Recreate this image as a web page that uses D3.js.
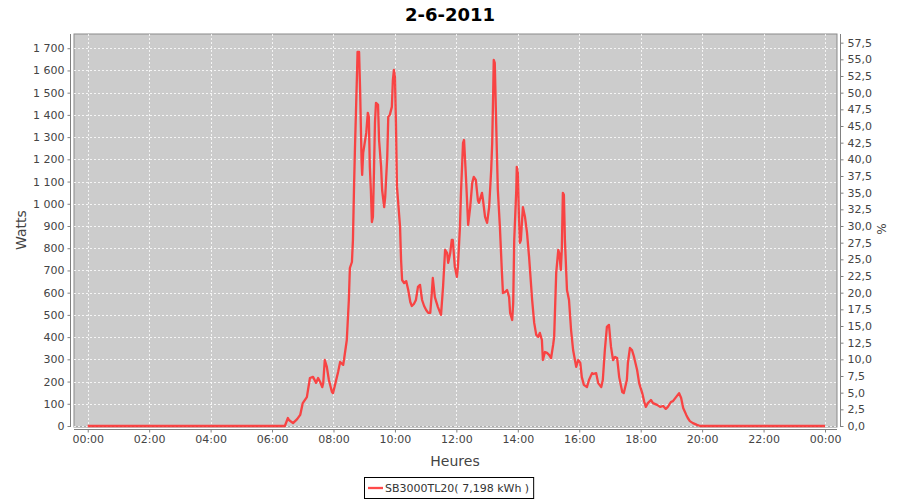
<!DOCTYPE html>
<html><head><meta charset="utf-8">
<script src="https://cdn.jsdelivr.net/npm/d3@7"></script>
<style>body{margin:0;background:#fff}svg{display:block;font-family:"DejaVu Sans",sans-serif}</style>
</head><body><svg id="c" width="900" height="500"></svg>
<script>
const title = "2-6-2011";
const seriesName = "SB3000TL20( 7,198 kWh )";
const xLabel = "Heures", yLabel = "Watts", y2Label = "%";
const xTicks = ["00:00","02:00","04:00","06:00","08:00","10:00","12:00","14:00","16:00","18:00","20:00","22:00","24:00"];
const times = ["00:00","06:25","06:31","06:33","06:41","06:49","06:55","07:00","07:08","07:14","07:20","07:26","07:30","07:34","07:38","07:40","07:43","07:47","07:51","07:57","07:59","08:03","08:09","08:13","08:19","08:21","08:26","08:30","08:32","08:36","08:38","08:40","08:42","08:46","08:47","08:50","08:52","08:54","08:55","08:56","08:58","09:04","09:07","09:09","09:11","09:13","09:15","09:17","09:19","09:21","09:23","09:27","09:29","09:33","09:35","09:39","09:41","09:45","09:47","09:50","09:54","09:56","09:58","10:00","10:02","10:04","10:06","10:10","10:12","10:14","10:18","10:22","10:26","10:30","10:33","10:37","10:41","10:45","10:49","10:53","10:57","11:01","11:05","11:09","11:12","11:14","11:18","11:24","11:30","11:34","11:38","11:42","11:44","11:48","11:51","11:53","11:57","12:01","12:03","12:07","12:09","12:13","12:15","12:19","12:23","12:27","12:31","12:34","12:38","12:42","12:44","12:50","12:52","12:56","13:00","13:04","13:08","13:10","13:12","13:13","13:15","13:17","13:19","13:21","13:25","13:29","13:31","13:35","13:39","13:43","13:45","13:49","13:51","13:53","13:57","13:58","14:00","14:02","14:04","14:06","14:08","14:10","14:14","14:18","14:22","14:28","14:32","14:36","14:40","14:43","14:47","14:49","14:53","14:57","15:01","15:05","15:09","15:11","15:15","15:19","15:21","15:24","15:26","15:28","15:30","15:32","15:36","15:40","15:44","15:48","15:54","15:58","16:02","16:05","16:09","16:15","16:19","16:25","16:27","16:33","16:37","16:43","16:46","16:50","16:54","16:58","17:02","17:06","17:10","17:14","17:18","17:24","17:27","17:33","17:35","17:39","17:43","17:47","17:53","17:57","18:03","18:07","18:10","18:14","18:20","18:24","18:32","18:38","18:44","18:49","18:53","18:59","19:03","19:09","19:15","19:19","19:23","19:29","19:32","19:36","19:42","19:50","19:56","24:00"];
const watts = [0,0,36,27,13,31,50,103,130,216,221,194,216,198,175,194,297,266,207,153,148,185,243,288,275,306,387,567,711,738,837,1062,1256,1589,1683,1683,1512,1287,1184,1130,1229,1319,1409,1391,1166,1062,918,940,1139,1364,1454,1445,1287,1166,1062,985,1031,1211,1391,1400,1436,1557,1602,1571,1364,1076,1017,896,747,657,643,652,612,558,540,549,567,626,635,567,540,522,509,509,598,666,580,535,500,626,792,778,734,778,837,837,716,671,716,896,1049,1274,1287,1107,905,985,1094,1121,1107,1017,1004,1049,1017,941,914,985,1152,1274,1512,1647,1634,1436,1242,1062,896,689,598,603,612,580,509,477,553,837,1062,1166,1139,959,824,837,914,985,941,869,761,567,464,410,401,419,387,297,333,329,320,306,365,401,689,792,778,702,800,1049,1040,837,612,567,432,342,266,297,284,220,185,175,207,238,234,238,193,175,207,342,446,455,356,297,311,306,220,153,148,207,284,351,342,311,252,193,148,108,86,103,117,103,95,86,90,77,86,108,112,130,148,126,81,50,36,22,13,5,0,0];

const toMin = s => { const [h,m] = s.split(":").map(Number); return h*60+m; };
const data = times.map((t,i)=>({x:toMin(t), y:watts[i]}));

const svg = d3.select("#c");
const P = {l:74, r:837, t:34, b:427};
const x = d3.scaleLinear().domain([-26.8,1463.4]).range([P.l,P.r]);
const y = d3.scaleLinear().domain([-4.5,1764]).range([P.b,P.t]);
const y2 = d3.scaleLinear().domain([-4.5/30,1764/30]).range([P.b,P.t]);

svg.append("rect").attr("x",P.l).attr("y",P.t).attr("width",P.r-P.l).attr("height",P.b-P.t)
  .attr("fill","#cccccc").attr("stroke","#8a8a8a").attr("stroke-width",1);

const yt = d3.range(0,1701,100);
const xt = xTicks.map(toMin);
const g = svg.append("g");
g.selectAll("line.h").data(yt).join("line").attr("x1",P.l).attr("x2",P.r)
  .attr("y1",d=>Math.round(y(d))+0.5).attr("y2",d=>Math.round(y(d))+0.5)
  .attr("stroke","#ffffff").attr("stroke-width",0.8).attr("stroke-dasharray","2,2");
g.selectAll("line.v").data(xt).join("line").attr("y1",P.t).attr("y2",P.b)
  .attr("x1",d=>Math.round(x(d))+0.5).attr("x2",d=>Math.round(x(d))+0.5)
  .attr("stroke","#ffffff").attr("stroke-width",0.8).attr("stroke-dasharray","2,2");

const fmtW = d => d3.format(",")(d).replace(/,/g," ");
const tickCol = "#444444";
const axL = svg.append("g").attr("transform",`translate(${P.l-3.5},0)`)
  .call(d3.axisLeft(y).tickValues(yt).tickFormat(fmtW).tickSizeOuter(0).tickSize(3).tickPadding(3));
const axR = svg.append("g").attr("transform",`translate(${P.r+3.5},0)`)
  .call(d3.axisRight(y2).tickValues(d3.range(0,57.6,2.5)).tickFormat(d=>d3.format(".1f")(d).replace(".",",")).tickSizeOuter(0).tickSize(3).tickPadding(4));
const axB = svg.append("g").attr("transform",`translate(0,${P.b+2.5})`)
  .call(d3.axisBottom(x).tickValues(xt).tickFormat((d,i)=>i===xTicks.length-1?"00:00":xTicks[i]).tickSizeOuter(0).tickSize(3).tickPadding(3));
[axL,axR,axB].forEach(a=>{
  a.select(".domain").attr("stroke","#808080");
  a.selectAll(".tick line").attr("stroke","#808080");
  a.selectAll(".tick text").attr("fill",tickCol).attr("font-size","11px").attr("font-family","DejaVu Sans");
});
axL.select(".domain").attr("d",`M0,${P.t}V${P.b}`);
axR.select(".domain").attr("d",`M0,${P.t}V${P.b}`);
axB.select(".domain").attr("d",`M${P.l},0H${P.r}`);

const line = d3.line().x(d=>x(d.x)).y(d=>y(d.y));
svg.append("path").datum(data).attr("d",line).attr("fill","none")
  .attr("stroke","#ff2a2a").attr("stroke-opacity",0.85).attr("stroke-width",2.3).attr("stroke-linejoin","round");

svg.append("text").attr("x",450).attr("y",21).attr("text-anchor","middle")
  .attr("font-size","18px").attr("font-weight","bold").attr("fill","#000").text(title);
svg.append("text").attr("x",455).attr("y",466).attr("text-anchor","middle")
  .attr("font-size","14px").attr("fill","#444").text(xLabel);
svg.append("text").attr("transform","translate(26,230) rotate(-90)").attr("text-anchor","middle")
  .attr("font-size","14px").attr("fill","#444").text(yLabel);
svg.append("text").attr("transform","translate(886,229) rotate(-90)").attr("text-anchor","middle")
  .attr("font-size","12px").attr("fill","#444").text(y2Label);

const lg = svg.append("g");
const lt = lg.append("text").attr("x",385).attr("y",492).attr("font-size","11px").attr("fill","#333").text(seriesName);
const w = lt.node().getComputedTextLength();
const bx = 364, bw = (385 - bx) + w + 4;
lg.insert("rect","text").attr("x",bx+0.5).attr("y",477.5).attr("width",bw).attr("height",21)
  .attr("fill","#fff").attr("stroke","#000");
lg.append("line").attr("x1",368).attr("x2",383).attr("y1",488).attr("y2",488)
  .attr("stroke","#ff2a2a").attr("stroke-opacity",0.85).attr("stroke-width",2.3);
</script></body></html>
